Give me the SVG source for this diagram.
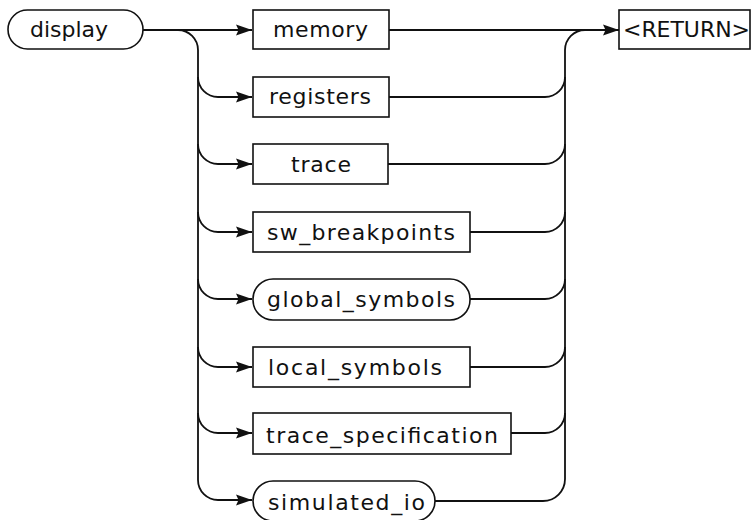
<svg xmlns="http://www.w3.org/2000/svg" width="755" height="520" viewBox="0 0 755 520">
<defs>
<marker id="arr" markerUnits="userSpaceOnUse" markerWidth="17" markerHeight="12" refX="16" refY="6" orient="auto">
<path d="M0,0.5 L16,6 L0,11.5 L2.5,6 z" fill="#111"/>
</marker>
<style>
rect{fill:#fff;stroke:#111;stroke-width:1.6}
text{font-family:"DejaVu Sans","Liberation Sans",sans-serif;font-size:22px;fill:#111}
.c path{fill:none;stroke:#111;stroke-width:1.8}
</style>
</defs>
<rect x="0" y="0" width="755" height="520" style="stroke:none"/>
<g class="c" id="connectors">
<path d="M143,30 H252" marker-end="url(#arr)"/>
<path d="M178,30 A20,20 0 0 1 198,50 V480"/>
<path d="M198,77 A20,20 0 0 0 218,97 H252" marker-end="url(#arr)"/>
<path d="M198,144 A20,20 0 0 0 218,164 H252" marker-end="url(#arr)"/>
<path d="M198,212 A20,20 0 0 0 218,232 H252" marker-end="url(#arr)"/>
<path d="M198,279 A20,20 0 0 0 218,299 H252" marker-end="url(#arr)"/>
<path d="M198,347 A20,20 0 0 0 218,367 H252" marker-end="url(#arr)"/>
<path d="M198,413 A20,20 0 0 0 218,433 H252" marker-end="url(#arr)"/>
<path d="M198,480 A20,20 0 0 0 218,500 H252" marker-end="url(#arr)"/>
<path d="M389,30 H619" marker-end="url(#arr)"/>
<path d="M389,97 H545 A20,20 0 0 0 565,77"/>
<path d="M388,164 H545 A20,20 0 0 0 565,144"/>
<path d="M470,232 H545 A20,20 0 0 0 565,212"/>
<path d="M470,299 H545 A20,20 0 0 0 565,279"/>
<path d="M470,367 H545 A20,20 0 0 0 565,347"/>
<path d="M511,433 H545 A20,20 0 0 0 565,413"/>
<path d="M435,501 H543 A22,22 0 0 0 565,479"/>
<path d="M565,479 V50 A20,20 0 0 1 585,30"/>
</g>
<g id="display"><rect x="8" y="10" width="135" height="39" rx="19.5"/><text x="30" y="37" textLength="78" lengthAdjust="spacing">display</text></g>
<g id="memory"><rect x="253" y="10" width="136" height="39"/><text x="273" y="37" textLength="95" lengthAdjust="spacing">memory</text></g>
<g id="return"><rect x="619" y="10" width="131" height="39"/><text x="623" y="37" textLength="127" lengthAdjust="spacing">&lt;RETURN&gt;</text></g>
<g id="registers"><rect x="253" y="77" width="136" height="40"/><text x="269" y="104" textLength="102" lengthAdjust="spacing">registers</text></g>
<g id="trace"><rect x="253" y="144" width="135" height="40"/><text x="291" y="172" textLength="60" lengthAdjust="spacing">trace</text></g>
<g id="sw_breakpoints"><rect x="253" y="212" width="217" height="40"/><text x="267" y="240" textLength="188" lengthAdjust="spacing">sw_breakpoints</text></g>
<g id="global_symbols"><rect x="253" y="279" width="217" height="41" rx="20"/><text x="267" y="307" textLength="188" lengthAdjust="spacing">global_symbols</text></g>
<g id="local_symbols"><rect x="253" y="347" width="217" height="40"/><text x="268" y="375" textLength="174" lengthAdjust="spacing">local_symbols</text></g>
<g id="trace_specification"><rect x="253" y="413" width="258" height="41"/><text x="266" y="443" textLength="232" lengthAdjust="spacing">trace_specification</text></g>
<g id="simulated_io"><rect x="253" y="481" width="182" height="40" rx="20"/><text x="268" y="510" textLength="157" lengthAdjust="spacing">simulated_io</text></g>
</svg>
